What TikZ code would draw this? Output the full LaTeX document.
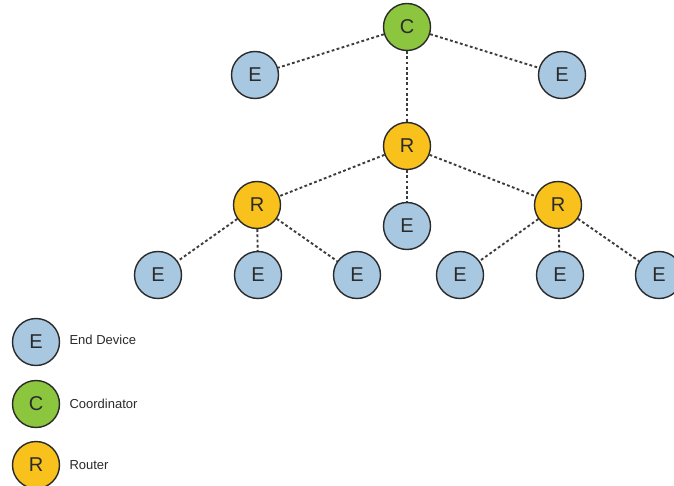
\documentclass[tikz,border=0pt]{standalone}
\usepackage{fontspec}
\setmainfont{Liberation Sans}
\definecolor{endblue}{HTML}{A8C8E2}
\definecolor{coordgreen}{HTML}{8CC63F}
\definecolor{routeryellow}{HTML}{F8C11C}
\definecolor{rimdark}{HTML}{2A2A2A}
\definecolor{linkgray}{HTML}{3C3C3C}
\begin{document}
\begin{tikzpicture}[x=1pt,y=-1pt,
  dev/.style={circle,draw=rimdark,line width=1.4pt,minimum size=47pt,inner sep=0pt,
              font=\fontsize{20}{20}\selectfont,text=rimdark},
  enddev/.style={dev,fill=endblue},
  coord/.style={dev,fill=coordgreen},
  router/.style={dev,fill=routeryellow},
  link/.style={draw=linkgray,line width=1.9pt,dash pattern=on 2.8pt off 2.4pt},
  legendtext/.style={anchor=west,font=\fontsize{13}{13}\selectfont,text=rimdark}]
\useasboundingbox (0,0) rectangle (674,486);
\fill[white] (0,0) rectangle (674,486);

% network nodes
\node[coord]  (c)   at (407,27)  {C};
\node[enddev] (e1)  at (255,75)  {E};
\node[enddev] (e2)  at (562,75)  {E};
\node[router] (r0)  at (407,146) {R};
\node[router] (r1)  at (257,205) {R};
\node[enddev] (e3)  at (407,226) {E};
\node[router] (r2)  at (558,205) {R};
\node[enddev] (e4)  at (158,275) {E};
\node[enddev] (e5)  at (258,275) {E};
\node[enddev] (e6)  at (357,275) {E};
\node[enddev] (e7)  at (460,275) {E};
\node[enddev] (e8)  at (560,275) {E};
\node[enddev] (e9)  at (659,275) {E};

% links
\draw[link] (c) -- (e1);
\draw[link] (c) -- (e2);
\draw[link] (c) -- (r0);
\draw[link] (r0) -- (r1);
\draw[link] (r0) -- (e3);
\draw[link] (r0) -- (r2);
\draw[link] (r1) -- (e4);
\draw[link] (r1) -- (e5);
\draw[link] (r1) -- (e6);
\draw[link] (r2) -- (e7);
\draw[link] (r2) -- (e8);
\draw[link] (r2) -- (e9);

% legend
\node[enddev] (le) at (36,342) {E};
\node[coord]  (lc) at (36,404) {C};
\node[router] (lr) at (36,465) {R};
\node[legendtext] (lte) at (66,340) {End Device};
\node[legendtext] (ltc) at (66,404) {Coordinator};
\node[legendtext] (ltr) at (66,465) {Router};
\end{tikzpicture}
\end{document}
